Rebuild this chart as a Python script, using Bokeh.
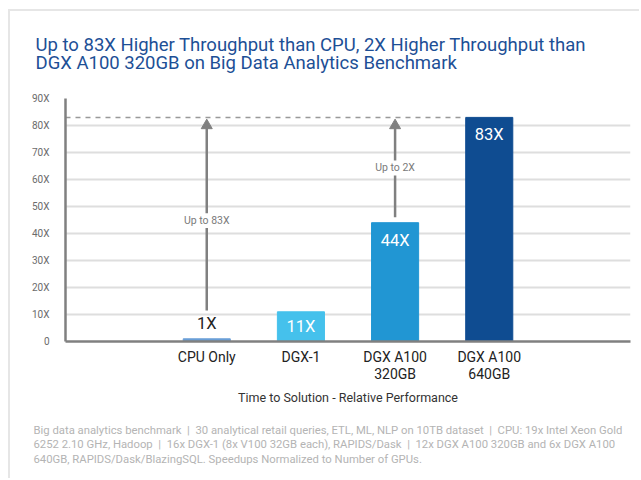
from bokeh.plotting import figure
from bokeh.models import ColumnDataSource, FactorRange, FixedTicker, Title
from bokeh.core.properties import value
from bokeh.embed import file_html
from bokeh.resources import INLINE

# ---- data ----
categories = ["CPU Only", "DGX-1", "DGX A100\n320GB", "DGX A100\n640GB"]
speedups = [1, 11, 44, 83]
bar_labels = ["1X", "11X", "44X", "83X"]
bar_colors = ["#6a9fd8", "#45c1ec", "#2196d3", "#0f4c91"]
y_ticks = [0, 10, 20, 30, 40, 50, 60, 70, 80, 90]
y_tick_labels = ["0", "10X", "20X", "30X", "40X", "50X", "60X", "70X", "80X", "90X"]

title_lines = ["Up to 83X Higher Throughput than CPU, 2X Higher Throughput than",
               "DGX A100 320GB on Big Data Analytics Benchmark"]
x_axis_title = "Time to Solution - Relative Performance"
SEP = "\u00a0\u00a0|\u00a0\u00a0"
footnote_lines = [
    "Big data analytics benchmark" + SEP + "30 analytical retail queries, ETL, ML, NLP on 10TB dataset" + SEP + "CPU: 19x Intel Xeon Gold",
    "6252 2.10 GHz, Hadoop" + SEP + "16x DGX-1 (8x V100 32GB each), RAPIDS/Dask" + SEP + "12x DGX A100 320GB and 6x DGX A100",
    "640GB, RAPIDS/Dask/BlazingSQL. Speedups Normalized to Number of GPUs.",
]

FONT = "Roboto"

W, H = 631, 469
p = figure(width=W, height=H, x_range=FactorRange(*categories, range_padding=0.5),
           y_range=(0, 90), output_backend="svg", toolbar_location=None,
           title="\n".join(title_lines),
           min_border_left=55, min_border_right=11, min_border_top=87, min_border_bottom=139)
p.outline_line_color = None
p.background_fill_color = "white"
p.border_fill_color = "white"
p.styles = {"border-top": "2px solid #e6e6e6", "border-left": "2px solid #e6e6e6",
            "margin-left": "8px", "margin-top": "9px"}

p.title.align = "left"
p.title.offset = -30
p.title.vertical_align = "top"
p.title.standoff = 45
p.title.text_font = FONT
p.title.text_font_style = "normal"
p.title.text_font_size = "18.5px"
p.title.text_color = "#1d4f96"
p.title.text_line_height = 0.84

p.add_layout(Title(text="\n".join(footnote_lines), align="left", offset=-32, standoff=27,
                   text_font=FONT, text_font_style="normal", text_font_size="11.3px",
                   text_color="#b4b4b4", text_line_height=1.134), "below")

src = ColumnDataSource(dict(cat=categories, val=speedups, lab=bar_labels, col=bar_colors,
                            tcol=["#222222", "white", "white", "white"],
                            base=["bottom", "top", "top", "top"],
                            yoff=[-6, 5, 8, 8]))
p.vbar(x="cat", top="val", width=0.5, color="col", source=src)
p.text(x="cat", y="val", text="lab", text_color="tcol", text_baseline="base", y_offset="yoff",
       text_align="center", text_font=value(FONT), text_font_size="16.5px", source=src)

# y axis
p.yaxis.ticker = FixedTicker(ticks=y_ticks)
p.yaxis.major_label_overrides = {t: s for t, s in zip(y_ticks, y_tick_labels)}
p.yaxis.major_tick_line_color = None
p.yaxis.minor_tick_line_color = None
p.yaxis.axis_line_color = "#808080"
p.yaxis.axis_line_width = 2.5
p.yaxis.major_label_text_font = FONT
p.yaxis.major_label_text_font_size = "10px"
p.yaxis.major_label_text_color = "#6b6b6b"
p.yaxis.major_label_standoff = 10

p.xaxis.major_tick_line_color = None
p.xaxis.axis_line_color = "#808080"
p.xaxis.axis_line_width = 2.5
p.xaxis.major_label_text_font = FONT
p.xaxis.major_label_text_font_size = "14px"
p.xaxis.major_label_text_color = "#222222"
p.xaxis.major_label_text_line_height = 1.1
p.xaxis.major_label_standoff = 1
p.xaxis.axis_label = x_axis_title
p.xaxis.axis_label_text_font = FONT
p.xaxis.axis_label_text_font_style = "normal"
p.xaxis.axis_label_text_font_size = "12.5px"
p.xaxis.axis_label_text_color = "#333333"
p.xaxis.axis_label_standoff = 5

p.xgrid.grid_line_color = None
p.ygrid.grid_line_color = "#dedede"
p.ygrid.grid_line_width = 2

# dashed reference line at top value
top = speedups[-1]
p.segment(x0=[("CPU Only", -1.5)], y0=[top], x1=[(categories[-1], -0.25)], y1=[top],
          line_color="#999999", line_width=1.5, line_dash="5 5")

# arrows (shaft split around text)
ARROW = "#808080"
def arrow(cat, y0, y1, gap_lo, gap_hi, text, ty):
    p.segment(x0=[cat, cat], y0=[y0, gap_hi], x1=[cat, cat], y1=[gap_lo, y1 - 1.5],
              line_color=ARROW, line_width=2.5)
    p.scatter(x=[cat], y=[y1 - 1.5], marker="triangle", size=11, color=ARROW)
    p.text(x=[cat], y=[ty], text=[text], text_align="center", text_baseline="middle",
           text_color="#7a7a7a", text_font=value(FONT), text_font_size="10.5px")

arrow(categories[0], 11.5, 81.5, 42, 47.5, "Up to 83X", 44.8)
arrow(categories[2], 46, 81.5, 61.5, 67, "Up to 2X", 64.4)

open("out.html", "w").write(file_html(p, INLINE))
